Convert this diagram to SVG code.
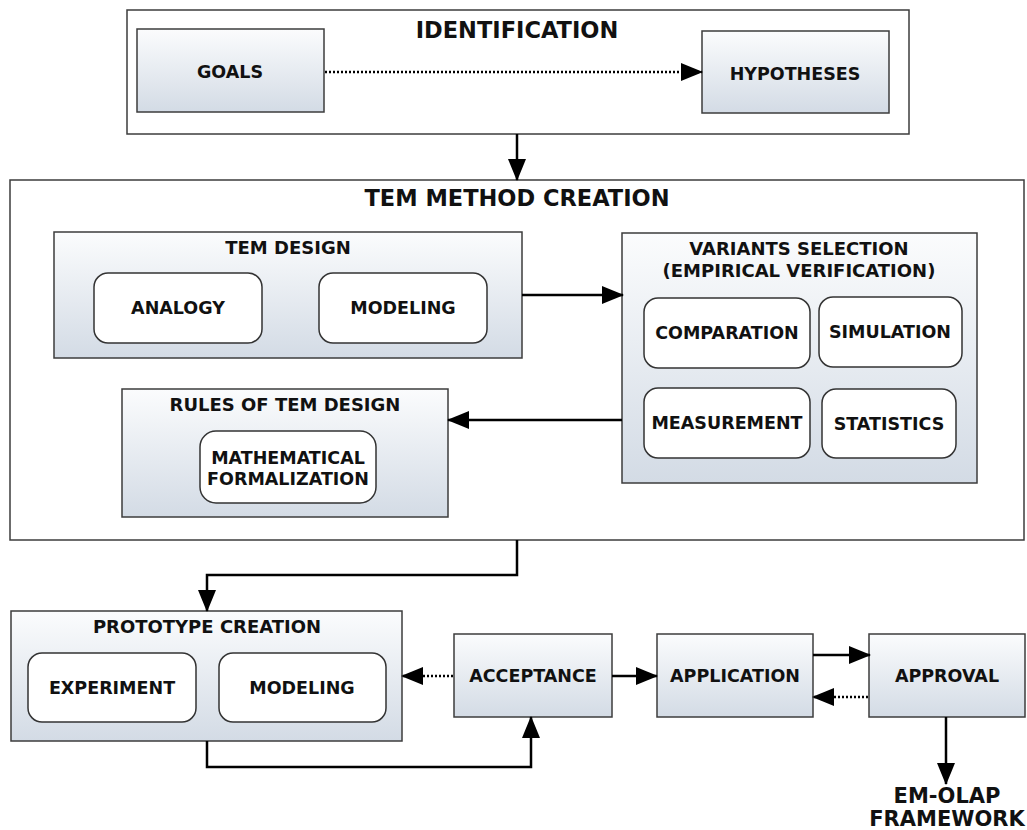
<svg xmlns="http://www.w3.org/2000/svg" width="1027" height="830" viewBox="0 0 1027 830">
<defs>
<linearGradient id="g" x1="0" y1="0" x2="0" y2="1">
<stop offset="0" stop-color="#fbfcfd"/>
<stop offset="1" stop-color="#d3dbe5"/>
</linearGradient>
<marker id="ah" markerUnits="userSpaceOnUse" markerWidth="22" markerHeight="18" refX="21" refY="9" orient="auto">
<path d="M0,0 L22,9 L0,18 Z" fill="#000"/>
</marker>
<style>
.frame{fill:#fff;stroke:#3c3c3c;stroke-width:1.5}
.box{fill:url(#g);stroke:#3c3c3c;stroke-width:1.5}
.rnd{fill:#fff;stroke:#333;stroke-width:1.5}
text{font-family:"DejaVu Sans","Verdana",sans-serif;font-weight:bold;fill:#111;text-anchor:middle}
.big{font-size:22.5px}
.sub{font-size:18px}
.lbl{font-size:17.5px}
.ext{font-size:21px}
.c{fill:none;stroke:#000;stroke-width:2.5}
.d{fill:none;stroke:#000;stroke-width:2.5;stroke-dasharray:2 2}
</style>
</defs>

<g id="identification">
<rect class="frame" x="127" y="10" width="782" height="124"/>
<text class="big" x="517" y="38">IDENTIFICATION</text>
</g>
<g id="goals">
<rect class="box" x="137" y="29" width="187" height="83"/>
<text class="lbl" x="230" y="78">GOALS</text>
</g>
<g id="hypotheses">
<rect class="box" x="702" y="31" width="187" height="82"/>
<text class="lbl" x="795" y="80">HYPOTHESES</text>
</g>

<g id="tem-method-creation">
<rect class="frame" x="10" y="180" width="1014" height="360"/>
<text class="big" x="517" y="206">TEM METHOD CREATION</text>
</g>
<g id="tem-design">
<rect class="box" x="54" y="232" width="468" height="126"/>
<text class="sub" x="288" y="254">TEM DESIGN</text>
<g id="analogy">
<rect class="rnd" x="94" y="273" width="168" height="70" rx="14"/>
<text class="lbl" x="178" y="314">ANALOGY</text>
</g>
<g id="modeling1">
<rect class="rnd" x="319" y="273" width="168" height="70" rx="14"/>
<text class="lbl" x="403" y="314">MODELING</text>
</g>
</g>
<g id="variants-selection">
<rect class="box" x="622" y="233" width="355" height="250"/>
<text class="sub" x="799" y="255">VARIANTS SELECTION</text>
<text class="sub" x="799" y="277">(EMPIRICAL VERIFICATION)</text>
<g id="comparation">
<rect class="rnd" x="644" y="298" width="166" height="70" rx="14"/>
<text class="lbl" x="727" y="339">COMPARATION</text>
</g>
<g id="simulation">
<rect class="rnd" x="819" y="297" width="143" height="70" rx="14"/>
<text class="lbl" x="890" y="338">SIMULATION</text>
</g>
<g id="measurement">
<rect class="rnd" x="644" y="388" width="166" height="70" rx="14"/>
<text class="lbl" x="727" y="429">MEASUREMENT</text>
</g>
<g id="statistics">
<rect class="rnd" x="822" y="389" width="134" height="69" rx="14"/>
<text class="lbl" x="889" y="430">STATISTICS</text>
</g>
</g>
<g id="rules-of-tem-design">
<rect class="box" x="122" y="389" width="326" height="128"/>
<text class="sub" x="285" y="411">RULES OF TEM DESIGN</text>
<g id="mathematical-formalization">
<rect class="rnd" x="200" y="431" width="176" height="72" rx="16"/>
<text class="lbl" x="288" y="464">MATHEMATICAL</text>
<text class="lbl" x="288" y="485">FORMALIZATION</text>
</g>
</g>

<g id="prototype-creation">
<rect class="box" x="11" y="611" width="391" height="130"/>
<text class="sub" x="207" y="633">PROTOTYPE CREATION</text>
<g id="experiment">
<rect class="rnd" x="28" y="653" width="168" height="69" rx="14"/>
<text class="lbl" x="112" y="694">EXPERIMENT</text>
</g>
<g id="modeling2">
<rect class="rnd" x="219" y="653" width="167" height="69" rx="14"/>
<text class="lbl" x="302" y="694">MODELING</text>
</g>
</g>
<g id="acceptance">
<rect class="box" x="454" y="634" width="158" height="83"/>
<text class="lbl" x="533" y="682">ACCEPTANCE</text>
</g>
<g id="application">
<rect class="box" x="657" y="634" width="156" height="83"/>
<text class="lbl" x="735" y="682">APPLICATION</text>
</g>
<g id="approval">
<rect class="box" x="869" y="634" width="156" height="83"/>
<text class="lbl" x="947" y="682">APPROVAL</text>
</g>
<g id="em-olap-framework">
<text class="ext" x="947" y="803">EM-OLAP</text>
<text class="ext" x="947" y="826">FRAMEWORK</text>
</g>

<g id="connectors">
<line class="d" x1="325" y1="72" x2="702" y2="72" marker-end="url(#ah)"/>
<line class="c" x1="517" y1="134" x2="517" y2="180" marker-end="url(#ah)"/>
<line class="c" x1="522" y1="295" x2="623" y2="295" marker-end="url(#ah)"/>
<line class="c" x1="622" y1="420" x2="448" y2="420" marker-end="url(#ah)"/>
<polyline class="c" points="517,540 517,575 207,575 207,611" marker-end="url(#ah)"/>
<line class="d" x1="453" y1="676" x2="402" y2="676" marker-end="url(#ah)"/>
<line class="c" x1="612" y1="676" x2="657" y2="676" marker-end="url(#ah)"/>
<line class="c" x1="813" y1="655" x2="870" y2="655" marker-end="url(#ah)"/>
<line class="d" x1="868" y1="697" x2="813" y2="697" marker-end="url(#ah)"/>
<polyline class="c" points="207,741 207,767 531,767 531,717" marker-end="url(#ah)"/>
<line class="c" x1="946" y1="717" x2="946" y2="784" marker-end="url(#ah)"/>
</g>
</svg>
